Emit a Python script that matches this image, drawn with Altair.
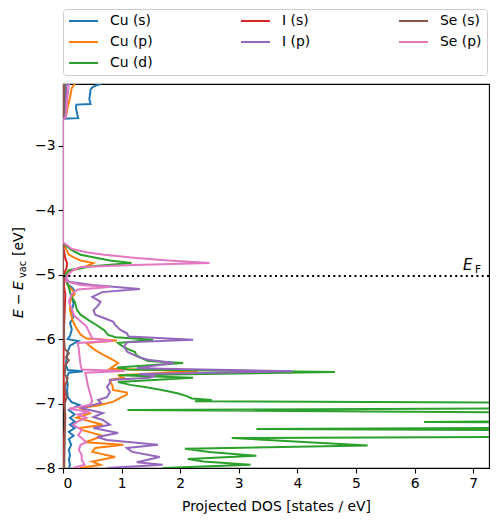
import altair as alt
import pandas as pd

# ---------------- data ----------------
series_names = ["Cu (s)", "Cu (p)", "Cu (d)", "I (s)", "I (p)", "Se (s)", "Se (p)"]
series_colors = ["#1f77b4", "#ff7f0e", "#2ca02c", "#d62728", "#9467bd", "#8c564b", "#e377c2"]

fermi_level = -5.02

cu_s = [(-8.00, 0.10), (-7.95, 0.12), (-7.87, 0.10), (-7.80, 0.12), (-7.72, 0.10), (-7.64, 0.14),
        (-7.55, 0.10), (-7.50, 0.18), (-7.44, 0.10), (-7.38, 0.20), (-7.33, 0.12), (-7.28, 0.20),
        (-7.22, 0.12), (-7.17, 0.20), (-7.10, 0.10), (-7.06, 0.20), (-7.02, 0.28), (-6.98, 0.15),
        (-6.90, 0.08), (-6.80, 0.07), (-6.70, 0.08), (-6.60, 0.06), (-6.52, 0.10), (-6.50, 0.34),
        (-6.48, 0.08), (-6.40, 0.05), (-6.30, 0.06), (-6.20, 0.08), (-6.10, 0.12), (-6.03, 0.26),
        (-6.00, 0.08), (-5.95, 0.12), (-5.85, 0.15), (-5.75, 0.12), (-5.65, 0.18), (-5.55, 0.15),
        (-5.45, 0.18), (-5.35, 0.15), (-5.25, 0.20), (-5.20, 0.15), (-5.15, 0.08), (-5.05, 0.02),
        (-5.00, 0.00), (-2.60, 0.00), (-2.58, 0.00), (-2.57, 0.26), (-2.50, 0.24), (-2.40, 0.22),
        (-2.36, 0.23), (-2.35, 0.47), (-2.28, 0.45), (-2.20, 0.46), (-2.13, 0.47), (-2.09, 0.50),
        (-2.06, 0.57), (-2.04, 0.65)]

cu_p = [(-8.00, 0.29), (-7.95, 0.64), (-7.90, 0.50), (-7.83, 0.89), (-7.75, 0.50), (-7.69, 0.55),
        (-7.64, 1.03), (-7.60, 0.38), (-7.50, 0.68), (-7.41, 0.32), (-7.38, 0.29), (-7.33, 0.68),
        (-7.22, 0.23), (-7.15, 0.46), (-7.07, 0.29), (-7.03, 0.60), (-6.97, 0.86), (-6.90, 1.00),
        (-6.86, 1.09), (-6.83, 1.09), (-6.79, 0.85), (-6.74, 0.85), (-6.68, 0.82), (-6.63, 0.80),
        (-6.60, 1.03), (-6.56, 0.94), (-6.50, 2.30), (-6.46, 0.80), (-6.43, 0.85), (-6.37, 0.94),
        (-6.32, 0.85), (-6.25, 0.70), (-6.17, 0.55), (-6.10, 0.45), (-6.06, 0.40), (-6.02, 0.92),
        (-5.99, 0.40), (-5.93, 0.30), (-5.86, 0.25), (-5.78, 0.20), (-5.70, 0.16), (-5.62, 0.14),
        (-5.55, 0.12), (-5.42, 0.12), (-5.35, 0.15), (-5.30, 0.20), (-5.25, 0.17), (-5.18, 0.10),
        (-5.10, 0.05), (-5.02, 0.04), (-4.95, 0.08), (-4.90, 0.30), (-4.85, 0.45), (-4.82, 0.52),
        (-4.78, 0.30), (-4.74, 0.20), (-4.69, 0.10), (-4.60, 0.05), (-4.50, 0.00), (-2.60, 0.00),
        (-2.55, 0.05), (-2.40, 0.08), (-2.25, 0.12), (-2.10, 0.15), (-2.04, 0.20)]

cu_d = [(-8.00, 1.70), (-7.95, 3.20), (-7.90, 2.40), (-7.86, 2.13), (-7.81, 3.30), (-7.75, 2.50),
        (-7.70, 2.08), (-7.65, 5.20), (-7.58, 3.80), (-7.535, 2.88), (-7.50, 12.0), (-7.43, 12.0),
        (-7.395, 3.30), (-7.36, 12.0), (-7.31, 12.0), (-7.286, 6.16), (-7.255, 12.0), (-7.16, 12.0),
        (-7.10, 1.10), (-7.06, 12.0), (-7.00, 12.0), (-6.965, 2.25), (-6.945, 2.54), (-6.92, 2.20),
        (-6.88, 2.10), (-6.84, 1.95), (-6.80, 1.75), (-6.75, 1.45), (-6.71, 1.15), (-6.665, 0.94),
        (-6.60, 2.22), (-6.56, 0.95), (-6.51, 4.64), (-6.47, 1.10), (-6.44, 0.92), (-6.37, 2.05),
        (-6.34, 1.45), (-6.30, 1.35), (-6.25, 1.25), (-6.20, 1.23), (-6.15, 1.10), (-6.10, 1.00),
        (-6.06, 0.94), (-6.01, 1.54), (-5.97, 0.90), (-5.935, 0.77), (-5.86, 0.70), (-5.78, 0.57),
        (-5.70, 0.43), (-5.62, 0.30), (-5.55, 0.24), (-5.42, 0.20), (-5.35, 0.15), (-5.27, 0.12),
        (-5.20, 0.10), (-5.10, 0.06), (-5.00, 0.04), (-4.93, 0.10), (-4.87, 0.50), (-4.82, 1.17),
        (-4.78, 0.80), (-4.74, 0.58), (-4.69, 0.30), (-4.62, 0.15), (-4.55, 0.05), (-4.50, 0.00),
        (-2.60, 0.00), (-2.50, 0.02), (-2.04, 0.04)]

i_s = [(-8.00, 0.01), (-7.50, 0.02), (-7.40, 0.03), (-7.20, 0.04), (-7.00, 0.02), (-6.50, 0.01),
       (-6.00, 0.01), (-5.30, 0.04), (-5.20, 0.02), (-5.00, 0.01), (-4.90, 0.06), (-4.82, 0.07),
       (-4.75, 0.04), (-4.60, 0.01), (-4.50, 0.00), (-2.60, 0.00), (-2.04, 0.01)]

i_p = [(-8.00, 0.75), (-7.95, 1.70), (-7.91, 1.26), (-7.83, 1.65), (-7.75, 1.18), (-7.69, 1.09),
       (-7.64, 1.62), (-7.565, 0.75), (-7.52, 0.58), (-7.456, 0.94), (-7.38, 0.52), (-7.33, 0.80),
       (-7.255, 0.68), (-7.21, 0.52), (-7.146, 0.68), (-7.07, 0.30), (-6.99, 0.65), (-6.944, 0.60),
       (-6.90, 0.75), (-6.82, 0.80), (-6.74, 0.75), (-6.68, 0.80), (-6.634, 0.80), (-6.60, 1.48),
       (-6.57, 1.57), (-6.54, 1.30), (-6.50, 3.92), (-6.45, 1.26), (-6.37, 1.90), (-6.32, 1.45),
       (-6.276, 1.28), (-6.20, 1.10), (-6.12, 1.04), (-6.05, 1.09), (-6.01, 2.22), (-5.96, 1.12),
       (-5.91, 1.09), (-5.857, 0.98), (-5.78, 0.89), (-5.73, 0.86), (-5.68, 0.72), (-5.62, 0.55),
       (-5.55, 0.52), (-5.48, 0.60), (-5.42, 0.64), (-5.345, 0.50), (-5.27, 0.67), (-5.22, 1.31),
       (-5.16, 0.50), (-5.11, 0.10), (-5.05, 0.05), (-5.00, 0.00), (-2.60, 0.00), (-2.55, 0.04),
       (-2.04, 0.06)]

se_s = [(-8.00, 0.02), (-7.50, 0.03), (-7.00, 0.03), (-6.90, 0.06), (-6.75, 0.03), (-6.60, 0.08),
        (-6.55, 0.03), (-6.40, 0.04), (-6.33, 0.10), (-6.28, 0.05), (-6.22, 0.10), (-6.15, 0.03),
        (-6.00, 0.02), (-5.50, 0.01), (-5.00, 0.00), (-2.60, 0.00), (-2.04, 0.02)]

se_p = [(-8.00, 0.17), (-7.95, 0.37), (-7.875, 0.32), (-7.80, 0.32), (-7.72, 0.27), (-7.64, 0.30),
        (-7.60, 0.40), (-7.49, 0.26), (-7.41, 0.32), (-7.33, 0.17), (-7.28, 0.25), (-7.22, 0.40),
        (-7.17, 0.25), (-7.13, 0.45), (-7.08, 0.10), (-7.02, 0.45), (-6.97, 0.50), (-6.90, 0.48),
        (-6.80, 0.45), (-6.70, 0.42), (-6.60, 0.40), (-6.52, 0.38), (-6.495, 1.05), (-6.47, 0.32),
        (-6.40, 0.30), (-6.25, 0.28), (-6.15, 0.27), (-6.06, 0.25), (-6.03, 0.85), (-5.99, 0.50),
        (-5.935, 0.47), (-5.86, 0.43), (-5.80, 0.40), (-5.70, 0.27), (-5.62, 0.18), (-5.55, 0.16),
        (-5.42, 0.10), (-5.30, 0.15), (-5.23, 0.25), (-5.19, 0.80), (-5.16, 0.30), (-5.10, 0.05),
        (-5.00, 0.08), (-4.93, 0.17), (-4.88, 0.30), (-4.85, 1.20), (-4.82, 2.50), (-4.78, 1.80),
        (-4.74, 1.25), (-4.69, 0.70), (-4.65, 0.40), (-4.60, 0.15), (-4.55, 0.08), (-4.50, 0.00),
        (-2.60, 0.00), (-2.55, 0.05), (-2.30, 0.07), (-2.04, 0.10)]

series_data = [cu_s, cu_p, cu_d, i_s, i_p, se_s, se_p]

x_ticks = [0, 1, 2, 3, 4, 5, 6, 7]
y_ticks = [-8, -7, -6, -5, -4, -3]
x_domain = [0, 7.27]
y_domain = [-8.0, -2.04]

# legend filled row-wise in 3 columns, matching matplotlib's column-wise layout
legend_order = ["Cu (s)", "I (s)", "Se (s)", "Cu (p)", "I (p)", "Se (p)", "Cu (d)"]
legend_colors = [series_colors[series_names.index(n)] for n in legend_order]

rows = []
for name, pts in zip(series_names, series_data):
    for k, (e, d) in enumerate(pts):
        rows.append({"series": name, "energy": e, "dos": d, "idx": k})
df = pd.DataFrame(rows)

FONT = "DejaVu Sans"
FS = 13.9

color_enc = alt.Color(
    "series:N",
    scale=alt.Scale(domain=legend_order, range=legend_colors),
    legend=alt.Legend(
        orient="none", legendX=0, legendY=-75, columns=3, direction="horizontal",
        title=None, values=legend_order,
        symbolType="stroke", symbolSize=841, symbolStrokeWidth=2,
        labelFont=FONT, labelFontSize=FS, labelColor="black", labelOffset=11,
        columnPadding=87, rowPadding=7, padding=5, clipHeight=14,
        strokeColor="#cccccc", fillColor="white", cornerRadius=3,
    ),
)

x_enc = alt.X(
    "dos:Q",
    scale=alt.Scale(domain=x_domain, nice=False, zero=False),
    axis=alt.Axis(values=x_ticks, format="d", title="Projected DOS [states / eV]"),
)
y_enc = alt.Y(
    "energy:Q",
    scale=alt.Scale(domain=y_domain, nice=False, zero=False),
    axis=alt.Axis(values=y_ticks, format="d", title=None),
)

lines = (
    alt.Chart(df)
    .mark_line(clip=True, strokeWidth=2)
    .encode(x=x_enc, y=y_enc, color=color_enc, order=alt.Order("idx:Q"))
)

ef_rule = (
    alt.Chart(pd.DataFrame({"energy": [fermi_level]}))
    .mark_rule(color="black", strokeWidth=2, strokeDash=[2, 3.3])
    .encode(y=alt.Y("energy:Q"))
)

dummy = pd.DataFrame({"a": [0]})


def label(txt, x, y, size=FS, style="normal", angle=0):
    return (
        alt.Chart(dummy)
        .mark_text(text=txt, font=FONT, fontSize=size, fontStyle=style, color="black",
                   align="left", baseline="alphabetic", angle=angle)
        .encode(x=alt.value(x), y=alt.value(y))
    )


ef_label = [label("E", 400, 186, 15, "italic"), label("F", 412, 189, 10.5)]

ytitle = [
    label("E", -40, 234, FS, "italic", 270),
    label("−", -40, 221, FS, "normal", 270),
    label("E", -40, 206, FS, "italic", 270),
    label("vac", -37, 194, 9.7, "normal", 270),
    label("[eV]", -40, 172, FS, "normal", 270),
]

chart = (
    alt.layer(lines, ef_rule, *ef_label, *ytitle)
    .properties(
        width=426, height=384,
        autosize=alt.AutoSizeParams(type="none"),
        padding={"left": 55, "top": 76, "right": 1, "bottom": 46},
    )
    .configure_axis(
        labelFont=FONT, labelFontSize=FS, labelColor="black",
        titleFont=FONT, titleFontSize=FS, titleFontWeight="normal", titleColor="black",
        domainColor="black", domainWidth=1.1, tickColor="black", tickWidth=1.1,
        tickSize=5, labelPadding=3, grid=False, zindex=1,
    )
    .configure_axisX(titlePadding=10)
    .configure_view(stroke="black", strokeWidth=1.1)
)

chart.save("out.html", embed_options={"renderer": "svg", "actions": False})
